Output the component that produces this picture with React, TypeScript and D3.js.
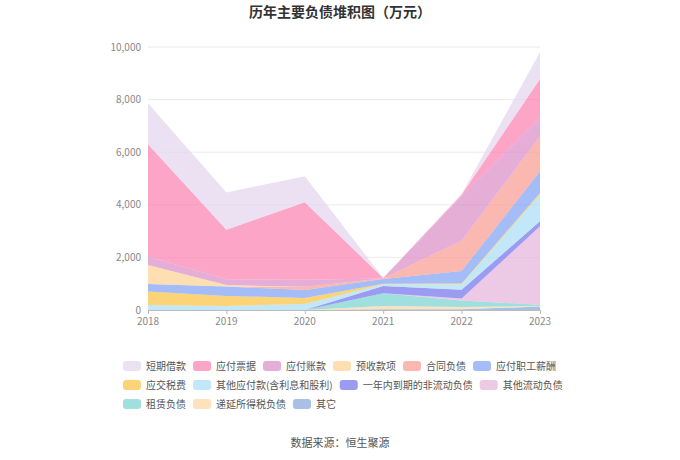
import React from "react";
import * as d3 from "d3";

const years = ["2018", "2019", "2020", "2021", "2022", "2023"];
const seriesNames = [
  "短期借款", "应付票据", "应付账款", "预收款项", "合同负债", "应付职工薪酬",
  "应交税费", "其他应付款(含利息和股利)", "一年内到期的非流动负债", "其他流动负债",
  "租赁负债", "递延所得税负债", "其它",
];
const colors = [
  "#e4d4ec", "#fb7fae", "#d98bc4", "#fdd190", "#f89a8e", "#7d9ff5",
  "#fcc13e", "#a6ddf6", "#7070ec", "#e4b2da", "#76d3d2", "#fdd69e", "#83a5dc",
];
const v短期借款 = [1560, 1420, 990, 0, 30, 1020];
const v应付票据 = [4270, 1880, 2950, 20, 50, 1460];
const v应付账款 = [315, 220, 270, 0, 1700, 720];
const v预收款项 = [725, 60, 0, 0, 0, 0];
const v合同负债 = [0, 0, 120, 20, 1150, 1320];
const v应付职工薪酬 = [290, 355, 300, 180, 470, 830];
const v应交税费 = [510, 385, 230, 20, 40, 60];
const v其他应付款 = [190, 150, 230, 70, 200, 1020];
const v一年内到期 = [0, 0, 0, 270, 330, 190];
const v其他流动负债 = [0, 0, 0, 0, 80, 2980];
const v租赁负债 = [0, 0, 0, 490, 250, 50];
const v递延所得税负债 = [0, 0, 0, 120, 80, 20];
const v其它 = [0, 0, 0, 30, 30, 130];
const seriesValues = [
  v短期借款, v应付票据, v应付账款, v预收款项, v合同负债, v应付职工薪酬,
  v应交税费, v其他应付款, v一年内到期, v其他流动负债, v租赁负债, v递延所得税负债, v其它,
];
const yTicks = [0, 2000, 4000, 6000, 8000, 10000];

const W = 680, H = 460;
const CJK = "'Noto Sans CJK SC', 'Noto Sans', sans-serif";

function measure(text: string, font: string): number {
  const c = document.createElement("canvas").getContext("2d");
  if (!c) return text.length * 10;
  c.font = font;
  return c.measureText(text).width;
}

export default function App() {
  const left = 148, right = 540, top = 47, bottom = 310;
  const x = d3.scalePoint<string>().domain(years).range([left, right]);
  const y = d3.scaleLinear().domain([0, 10000]).range([bottom, top]);

  const rows = years.map((yr, i) => {
    const o: any = { year: yr };
    seriesNames.forEach((n, k) => (o[n] = seriesValues[k][i]));
    return o;
  });
  const keys = [...seriesNames].reverse();
  const stacked = d3.stack<any>().keys(keys)(rows);
  const area = d3
    .area<any>()
    .x((d) => x(d.data.year) as number)
    .y0((d) => y(d[0]))
    .y1((d) => y(d[1]));

  // legend flow layout
  const legFont = `10px ${CJK}`;
  const sw = 18, sh = 10, gapT = 5, itemGap = 7;
  const legLeft = 123, legMaxRight = 575, rowY0 = 366, rowH = 19;
  const items: { name: string; color: string; x: number; y: number }[] = [];
  let cx = legLeft, row = 0;
  seriesNames.forEach((n, k) => {
    const w = sw + gapT + measure(n, legFont);
    if (cx + w > legMaxRight && cx > legLeft) {
      row += 1;
      cx = legLeft;
    }
    items.push({ name: n, color: colors[k], x: cx, y: rowY0 + row * rowH });
    cx += w + itemGap;
  });

  return (
    <svg width={W} height={H} style={{ display: "block", position: "absolute", left: 0, top: 0 }}>
      <rect width={W} height={H} fill="#fff" />
      <text x={340} y={17} textAnchor="middle" fontFamily={CJK} fontSize={14} fontWeight="bold" fill="#333">
        历年主要负债堆积图（万元）
      </text>
      {yTicks.map((t) => (
        <g key={t}>
          {t > 0 && <line x1={left} x2={right} y1={y(t)} y2={y(t)} stroke="#ebebeb" strokeWidth={1} />}
          <text x={141} y={y(t)} dy="0.35em" textAnchor="end" fontFamily={CJK} fontSize={10} fill="#888">
            {d3.format(",")(t)}
          </text>
        </g>
      ))}
      {stacked.map((s) => {
        const idx = seriesNames.indexOf(s.key);
        return <path key={s.key} d={area(s as any) || ""} fill={colors[idx]} fillOpacity={0.7} stroke="none" />;
      })}
      <line x1={left} x2={right} y1={bottom + 0.5} y2={bottom + 0.5} stroke="#bbb" />
      {years.map((yr) => (
        <g key={yr}>
          <line x1={(x(yr) as number) + 0.5} x2={(x(yr) as number) + 0.5} y1={bottom} y2={bottom + 4} stroke="#bbb" />
          <text x={x(yr) as number} y={bottom + 15} textAnchor="middle" fontFamily={CJK} fontSize={10} fill="#888">
            {yr}
          </text>
        </g>
      ))}
      {items.map((it) => (
        <g key={it.name}>
          <rect x={it.x} y={it.y - sh / 2} width={sw} height={sh} rx={3} fill={it.color} fillOpacity={0.7} />
          <text x={it.x + sw + gapT} y={it.y} dy="0.35em" fontFamily={CJK} fontSize={10} fill="#555">
            {it.name}
          </text>
        </g>
      ))}
      <text x={340} y={447} textAnchor="middle" fontFamily={CJK} fontSize={11} fill="#555">
        数据来源：恒生聚源
      </text>
    </svg>
  );
}
